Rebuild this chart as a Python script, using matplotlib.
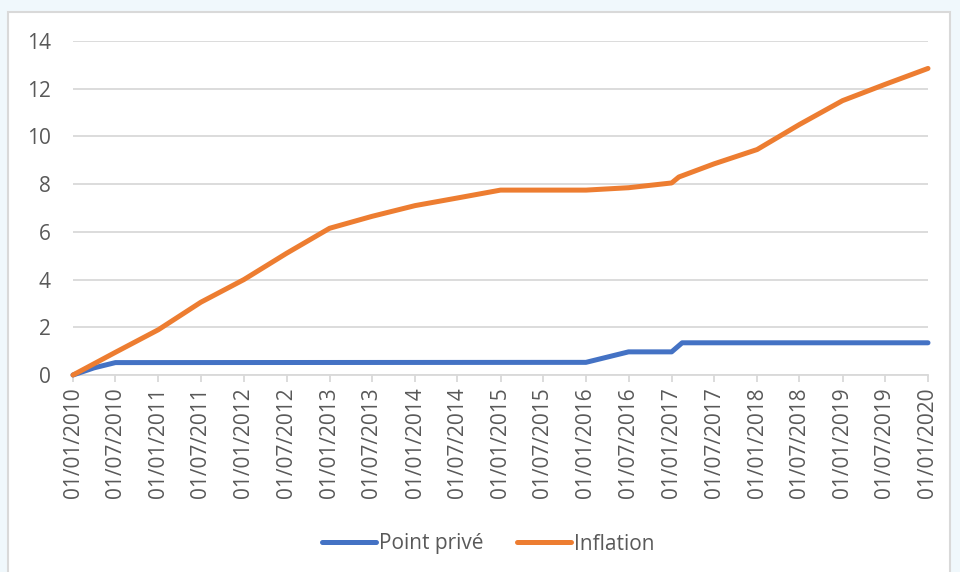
"""
Point privé vs inflation, 2010-2020 (Excel-style line chart).
"""

import pandas as pd
import matplotlib.pyplot as plt
import matplotlib.dates as mdates
from matplotlib.patches import Rectangle

# data
inflation_dates = [
    "2010-01-01", "2010-07-01", "2011-01-01", "2011-07-01", "2012-01-01",
    "2012-07-01", "2013-01-01", "2013-07-01", "2014-01-01", "2014-07-01",
    "2015-01-01", "2015-07-01", "2016-01-01", "2016-07-01", "2017-01-01",
    "2017-02-01", "2017-07-01", "2018-01-01", "2018-07-01", "2019-01-01",
    "2019-07-01", "2020-01-01",
]
inflation_values = [
    0.0, 0.95, 1.9, 3.05, 4.0,
    5.1, 6.15, 6.65, 7.1, 7.42,
    7.75, 7.75, 7.75, 7.85, 8.05,
    8.3, 8.85, 9.45, 10.5, 11.5,
    12.18, 12.85,
]

point_dates = [
    "2010-01-01", "2010-04-01", "2010-07-01", "2016-01-01", "2016-07-01",
    "2017-01-01", "2017-02-15", "2020-01-01",
]
point_values = [0.0, 0.3, 0.52, 0.53, 0.97, 0.97, 1.35, 1.35]

tick_dates = pd.date_range("2010-01-01", "2020-01-01", freq="6MS")

BLUE = "#4472C4"
ORANGE = "#ED7D31"
GRID = "#D9D9D9"
TEXT = "#595959"

plt.rcParams["font.family"] = ["Open Sans", "DejaVu Sans"]

fig = plt.figure(figsize=(9.6, 5.72), dpi=100, facecolor="#F0F8FC")

# white chart area with thin grey border
fig.patches.append(Rectangle(
    (8 / 960, -0.01), (950 - 8) / 960, 1 - 12 / 572 + 0.01,
    transform=fig.transFigure, facecolor="white", edgecolor=GRID,
    linewidth=1.5, zorder=-1,
))

ax = fig.add_axes([73 / 960, 1 - 375 / 572, (928 - 73) / 960, (375 - 41) / 572])
ax.set_facecolor("none")

ax.plot(pd.to_datetime(point_dates), point_values, color=BLUE, linewidth=3.6,
        solid_capstyle="round", solid_joinstyle="round", clip_on=False,
        label="Point privé", zorder=3)
ax.plot(pd.to_datetime(inflation_dates), inflation_values, color=ORANGE,
        linewidth=3.6, solid_capstyle="round", solid_joinstyle="round",
        clip_on=False, label="Inflation", zorder=3)

ax.set_xlim(pd.Timestamp("2010-01-01"), pd.Timestamp("2020-01-01"))
ax.set_ylim(0, 14)
ax.set_yticks(range(0, 15, 2))
ax.set_xticks(tick_dates)
ax.xaxis.set_major_formatter(mdates.DateFormatter("%d/%m/%Y"))

ax.grid(axis="y", color=GRID, linewidth=1.3)
ax.set_axisbelow(True)
for side in ["top", "right", "left"]:
    ax.spines[side].set_visible(False)
ax.spines["bottom"].set_color(GRID)
ax.spines["bottom"].set_linewidth(1.3)

ax.tick_params(axis="y", length=0, pad=16, labelsize=15, labelcolor=TEXT)
ax.tick_params(axis="x", length=5, width=1.3, color=GRID, pad=4,
               labelsize=15, labelcolor=TEXT, labelrotation=90)

fig.legend(loc="center", bbox_to_anchor=(488 / 960, 1 - 544 / 572), ncol=2,
           frameon=False, fontsize=15, labelcolor=TEXT, handlelength=2.6,
           handletextpad=0.15, columnspacing=1.6)

fig.savefig("out.png", dpi=100, facecolor=fig.get_facecolor())
